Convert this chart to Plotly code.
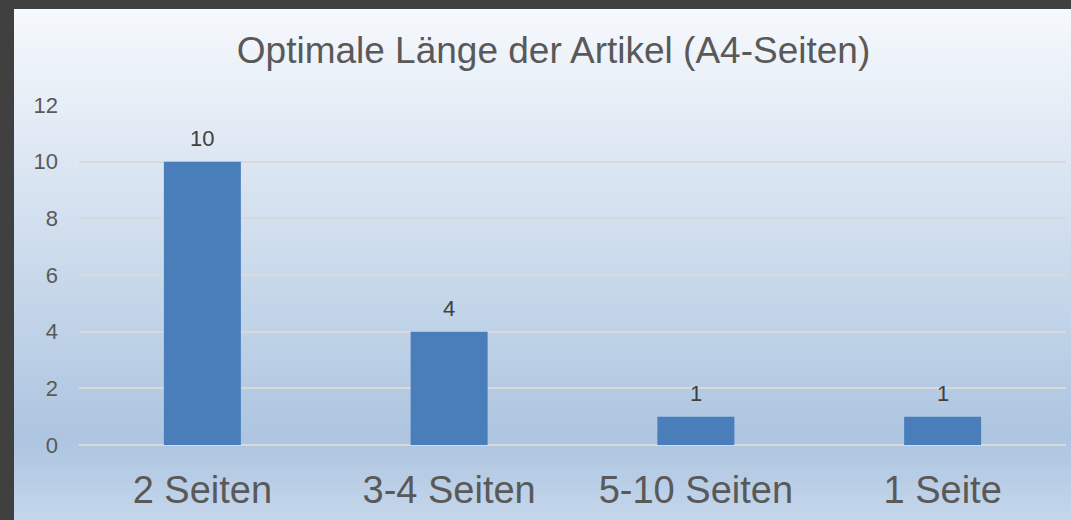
import base64
import plotly.graph_objects as go

# Data
categories = ["2 Seiten", "3-4 Seiten", "5-10 Seiten", "1 Seite"]
values = [10, 4, 1, 1]
y_ticks = [0, 2, 4, 6, 8, 10, 12]

title_text = "Optimale Länge der Artikel (A4-Seiten)"

W, H = 1071, 520
ML, MR, MT, MB = 79, 5, 105, 75
pw = W - ML - MR
ph = H - MT - MB

# gradient background (inner panel inside dark border)
bx0, by0 = 14, 9
svg = (
    "<svg xmlns='http://www.w3.org/2000/svg' width='1057' height='511' preserveAspectRatio='none'>"
    "<defs><linearGradient id='g' x1='0' y1='0' x2='0' y2='1'>"
    "<stop offset='0' stop-color='#f6f9fd'/>"
    "<stop offset='0.84' stop-color='#adc5e0'/>"
    "<stop offset='1' stop-color='#c4d6eb'/>"
    "</linearGradient></defs>"
    "<rect x='0' y='0' width='1057' height='511' fill='url(#g)'/></svg>"
)
src = "data:image/svg+xml;base64," + base64.b64encode(svg.encode()).decode()

fig = go.Figure()
fig.add_trace(go.Bar(
    x=categories, y=values,
    marker=dict(color="#4a7ebb", line=dict(width=0)),
    hoverinfo="skip",
))

annotations = []
for c, v in zip(categories, values):
    annotations.append(dict(
        x=c, y=v, xref="x", yref="y", text=str(v), showarrow=False,
        yanchor="bottom", yshift=9,
        font=dict(family="Liberation Sans, Arial, sans-serif", size=22, color="#404040"),
    ))

fig.update_layout(
    width=W, height=H,
    margin=dict(l=ML, r=MR, t=MT, b=MB),
    paper_bgcolor="#404040",
    plot_bgcolor="rgba(0,0,0,0)",
    bargap=0.688,
    showlegend=False,
    font=dict(family="Liberation Sans, Arial, sans-serif", color="#595959"),
    title=dict(
        text=title_text,
        x=(553.5) / W, xanchor="center",
        y=1 - 50 / H, yanchor="middle",
        font=dict(size=37, color="#595959"),
    ),
    xaxis=dict(
        showgrid=False, showline=False, zeroline=False,
        tickfont=dict(size=38, color="#595959"),
        ticks="", ticklabelstandoff=19,
    ),
    yaxis=dict(
        range=[0, 12], tickvals=y_ticks,
        showgrid=True, gridcolor="#d9d9d9", gridwidth=2,
        zeroline=True, zerolinecolor="#d9d9d9", zerolinewidth=2,
        showline=False,
        tickfont=dict(size=22, color="#595959"),
        ticks="", ticklabelstandoff=20,
    ),
    images=[dict(
        source=src, xref="paper", yref="paper",
        x=(bx0 - ML) / pw, y=(H - MB - by0) / ph,
        sizex=(W - bx0) / pw, sizey=(H - by0) / ph,
        xanchor="left", yanchor="top", sizing="stretch", layer="below",
    )],
    annotations=annotations,
)

fig.write_html(
    "out.html",
    config={"displayModeBar": False},
    post_script="document.body.style.margin='0';document.body.style.overflow='hidden';",
)
